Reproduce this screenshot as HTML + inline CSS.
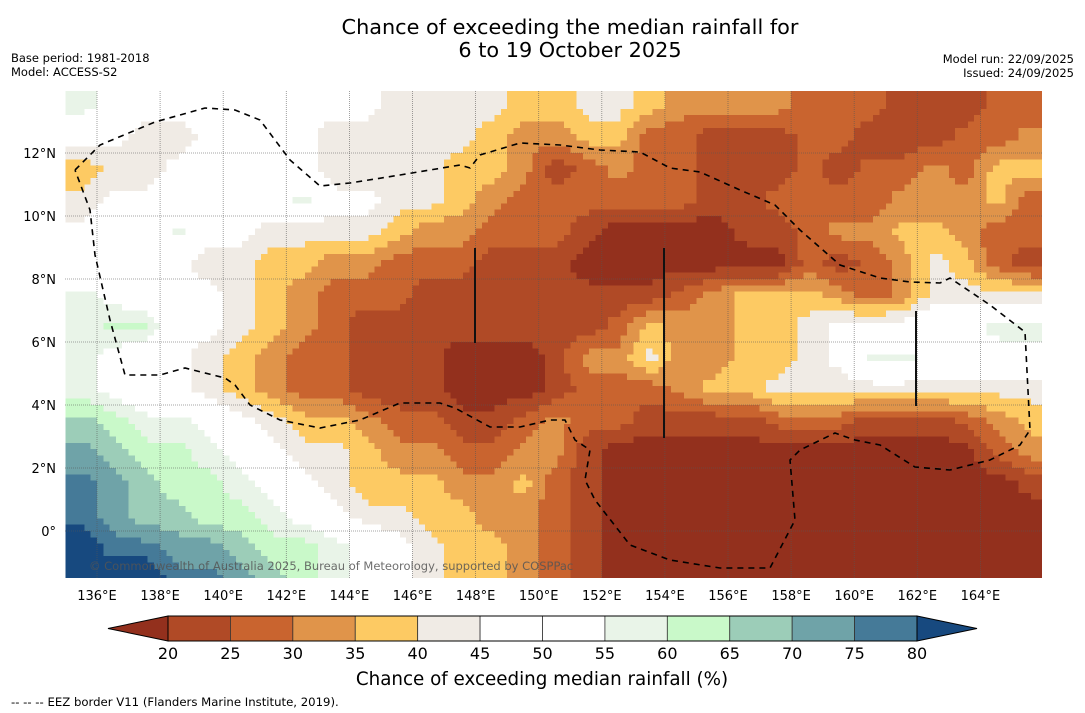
<!DOCTYPE html>
<html><head><meta charset="utf-8">
<style>
html,body{margin:0;padding:0;background:#fff;}
body{width:1085px;height:713px;overflow:hidden;position:relative;font-family:"DejaVu Sans","Liberation Sans",sans-serif;}
svg{position:absolute;left:0;top:0;}
</style></head>
<body>
<svg id="chart" width="1085" height="713" viewBox="0 0 1085 713" xmlns="http://www.w3.org/2000/svg">
  <text x="570" y="34" text-anchor="middle" font-size="20.8" fill="#000">Chance of exceeding the median rainfall for</text>
  <text x="570" y="57" text-anchor="middle" font-size="20.8" fill="#000">6 to 19 October 2025</text>
  <text x="11" y="62" font-size="11.5" fill="#000">Base period: 1981-2018</text>
  <text x="11" y="76" font-size="11.5" fill="#000">Model: ACCESS-S2</text>
  <text x="1074" y="63" text-anchor="end" font-size="11.5" fill="#000">Model run: 22/09/2025</text>
  <text x="1074" y="77" text-anchor="end" font-size="11.5" fill="#000">Issued: 24/09/2025</text>
  <defs><clipPath id="mapclip"><rect x="65" y="91" width="977" height="487"/></clipPath></defs>
  <g id="cells" clip-path="url(#mapclip)" shape-rendering="crispEdges"></g>
  <g id="grid" clip-path="url(#mapclip)"></g>
  <g id="overlay" clip-path="url(#mapclip)"></g>
  <text x="89" y="570" font-size="11.5" fill="#555" fill-opacity="0.85">© Commonwealth of Australia 2025, Bureau of Meteorology, supported by COSPPac</text>
  <g id="xticks"></g>
  <g id="yticks"></g>
  <g id="colorbar"></g>
  <text x="542" y="685" text-anchor="middle" font-size="18.3" fill="#000">Chance of exceeding median rainfall (%)</text>
  <text x="11" y="706" font-size="11.7" fill="#000">--  --  -- EEZ border V11 (Flanders Marine Institute, 2019).</text>
</svg>
<script>
// ---- data ----
const lonStart = 135;
const latTops = [14,13,12,11,10,9,8,7,6,5,4,3,2,1,0,-1];
const row0  = [57,52,47,47,47,47,47,47,47,47,42,42,42,42,37,37,42,42,37,32,32,32,32,27,27,27,22,22,22,27,27];
const row1  = [47,47,42,42,47,47,47,47,42,42,42,42,42,37,32,32,37,37,27,27,22,22,22,27,27,22,22,22,27,27,32];
const row2  = [37,42,42,47,47,47,47,47,42,42,42,42,37,37,32,22,27,32,27,27,22,22,22,27,22,27,27,32,27,37,37];
const row3  = [42,47,47,47,47,47,52,57,47,47,42,42,37,32,27,27,27,27,27,27,22,22,27,27,27,27,32,32,32,37,27];
const row4  = [47,47,47,57,47,47,42,42,42,42,37,32,32,27,27,27,22,17,17,17,17,22,22,27,32,32,37,37,32,27,27];
const row5  = [47,47,47,47,42,42,37,37,32,32,27,27,27,22,22,22,17,17,17,17,17,17,17,27,22,27,32,42,37,27,22];
const row6  = [57,52,47,47,47,42,37,32,27,27,27,22,22,22,22,22,22,22,22,27,32,37,37,37,32,27,32,42,42,42,42];
const row7  = [57,62,62,47,47,42,37,32,27,22,22,22,22,22,22,22,22,27,37,32,32,37,37,42,47,47,47,52,52,57,57];
const row8  = [57,52,47,47,42,37,32,27,27,22,22,22,17,17,17,22,32,32,42,32,32,37,37,42,47,57,57,52,52,52,52];
const row9  = [57,52,47,47,42,37,32,27,27,22,22,22,17,17,17,22,27,27,27,32,37,37,42,42,42,42,42,42,42,42,42];
const row10 = [67,62,57,57,52,47,42,37,37,32,27,27,22,22,27,32,27,27,22,22,22,22,27,27,27,22,22,22,27,32,37];
const row11 = [72,67,62,62,57,52,47,42,42,37,32,32,27,27,32,32,22,17,17,17,17,17,17,17,17,17,17,17,17,27,32];
const row12 = [77,72,67,62,62,57,52,47,42,37,37,37,32,32,37,27,22,17,17,17,17,17,17,17,17,17,17,17,17,17,22];
const row13 = [77,72,67,67,62,62,57,52,47,42,42,37,37,32,32,27,22,17,17,17,17,17,17,17,17,17,17,17,17,17,17];
const row14 = [85,77,77,72,72,67,62,62,57,52,47,42,37,37,32,27,22,17,17,17,17,17,17,17,17,17,17,17,17,17,17];
const row15 = [85,85,85,77,77,72,67,62,57,52,47,42,37,37,32,27,22,17,17,17,17,17,17,17,17,17,17,17,17,17,17];
const rows = [row0,row1,row2,row3,row4,row5,row6,row7,row8,row9,row10,row11,row12,row13,row14,row15];
const levels = [20,25,30,35,40,45,50,55,60,65,70,75,80];
const levelLabels = ["20","25","30","35","40","45","50","55","60","65","70","75","80"];
const bandColors = ["#93301d","#b04a26","#c9642f","#e0944a","#fdca63","#f0ebe5","#ffffff","#ffffff","#e9f4e8","#c9f9c9","#9ccdb8","#6fa3a8","#457a98","#17497f"];
const lonTicks = [136,138,140,142,144,146,148,150,152,154,156,158,160,162,164];
const latTicks = [0,2,4,6,8,10,12];
const latTickLabels = ["0°","2°N","4°N","6°N","8°N","10°N","12°N"];

// ---- axes ----
const X = lon => 97 + (lon - 136) * 31.55;
const Y = lat => 531 - lat * 31.5;
const colorFor = v => { let i = 0; while (i < levels.length && v >= levels[i]) i++; return bandColors[i]; };
const NS = "http://www.w3.org/2000/svg";
const mk = (tag, attrs, parent) => { const e = document.createElementNS(NS, tag); for (const k in attrs) e.setAttribute(k, attrs[k]); parent.appendChild(e); return e; };

// sample the cell-centred field (bilinear between cell centres) for smoother bands
const nR = rows.length, nC = rows[0].length;
function field(lon, lat) {
  let fc = lon - lonStart - 0.5, fr = (latTops[0] - 0.5) - lat;
  fc = Math.max(0, Math.min(nC - 1, fc)); fr = Math.max(0, Math.min(nR - 1, fr));
  const c0 = Math.floor(fc), r0 = Math.floor(fr);
  const c1 = Math.min(nC - 1, c0 + 1), r1 = Math.min(nR - 1, r0 + 1);
  const tc = fc - c0, tr = fr - r0;
  const a = rows[r0][c0] * (1 - tc) + rows[r0][c1] * tc;
  const b = rows[r1][c0] * (1 - tc) + rows[r1][c1] * tc;
  return a * (1 - tr) + b * tr;
}
const cg = document.getElementById('cells');
const SUB = 5;
const step = 1 / SUB;
const latBottom = latTops[nR - 1] - 1;
for (let lat = latTops[0]; lat > latBottom + 1e-9; lat -= step) {
  const y0 = Y(lat), y1 = Y(lat - step);
  let runStart = null, runColor = null;
  const lonEnd = lonStart + nC;
  for (let lon = lonStart; lon <= lonEnd + 1e-9; lon += step) {
    const col = lon < lonEnd - 1e-9 ? colorFor(field(lon + step / 2, lat - step / 2)) : null;
    if (col !== runColor) {
      if (runColor !== null) {
        const r = mk('rect', {x: X(runStart), y: y0, width: X(lon) - X(runStart) + 0.5, height: y1 - y0 + 0.5, fill: runColor}, cg);
        
        
      }
      runStart = lon; runColor = col;
    }
  }
}

// grid
const gg = document.getElementById('grid');
lonTicks.forEach(l => {
  const ln = mk('line', {x1: X(l), x2: X(l), y1: 91, y2: 578, stroke: '#555', 'stroke-width': 0.8, 'stroke-dasharray': '1 1', 'stroke-opacity': 0.7}, gg);
  
  
});
latTicks.forEach(l => {
  const ln = mk('line', {x1: 65, x2: 1042, y1: Y(l), y2: Y(l), stroke: '#555', 'stroke-width': 0.8, 'stroke-dasharray': '1 1', 'stroke-opacity': 0.7}, gg);
  
  
});

// overlay: EEZ + markers
const og = document.getElementById('overlay');
const eez = "75,170 100,145 155,122 205,108 235,110 260,120 290,160 320,186 350,183 400,175 460,165 470,168 480,155 520,143 560,145 600,150 640,152 670,168 700,172 740,190 775,205 800,230 840,265 880,278 910,282 940,283 950,278 990,305 1025,332 1030,430 1020,445 990,460 950,470 915,467 880,445 855,440 835,433 800,450 790,460 795,520 770,568 720,568 670,560 630,545 595,500 585,480 590,450 575,440 565,420 550,420 520,427 490,427 455,408 440,403 400,403 360,420 320,428 280,420 250,405 235,385 225,378 185,368 160,375 125,375 110,320 95,255 90,210 75,170";
const eezEl = mk('polyline', {points: eez, fill: 'none', stroke: '#000', 'stroke-width': 1.6, 'stroke-dasharray': '6 5'}, og);


[[475,248,343],[664,248,438],[916,311,406]].forEach(m => {
  const ln = mk('line', {x1: m[0], x2: m[0], y1: m[1], y2: m[2], stroke: '#111', 'stroke-width': 2}, og);
  
  
});

// ticks
const xt = document.getElementById('xticks');
lonTicks.forEach(l => {
  const t = mk('text', {x: X(l), y: 600, 'text-anchor': 'middle', 'font-size': 13, fill: '#000'}, xt);
  t.textContent = l + '°E';
  
  
});
const yt = document.getElementById('yticks');
latTicks.forEach((l, i) => {
  const t = mk('text', {x: 56, y: Y(l) + 5, 'text-anchor': 'end', 'font-size': 13, fill: '#000'}, yt);
  t.textContent = latTickLabels[i];
  
  
});

// colorbar
const cb = document.getElementById('colorbar');
const cbX = v => 168 + (v - 20) * (917 - 168) / 60;
const cTop = 616, cBot = 641;
const lt = mk('polygon', {points: `${cbX(20)},${cTop} 108,${(cTop+cBot)/2} ${cbX(20)},${cBot}`, fill: bandColors[0], stroke: '#000', 'stroke-width': 1}, cb);


const rt = mk('polygon', {points: `${cbX(80)},${cTop} 977,${(cTop+cBot)/2} ${cbX(80)},${cBot}`, fill: bandColors[13], stroke: '#000', 'stroke-width': 1}, cb);


for (let i = 0; i < levels.length - 1; i++) {
  const r = mk('rect', {x: cbX(levels[i]), y: cTop, width: cbX(levels[i+1]) - cbX(levels[i]), height: cBot - cTop, fill: bandColors[i+1], stroke: '#333', 'stroke-width': 0.8}, cb);
  
  
}
mk('rect', {x: cbX(20), y: cTop, width: cbX(80) - cbX(20), height: cBot - cTop, fill: 'none', stroke: '#000', 'stroke-width': 1}, cb);
levels.forEach((v, i) => {
  const t = mk('text', {x: cbX(v), y: 659, 'text-anchor': 'middle', 'font-size': 16, fill: '#000'}, cb);
  t.textContent = levelLabels[i];
  
  
});
</script>
</body></html>
